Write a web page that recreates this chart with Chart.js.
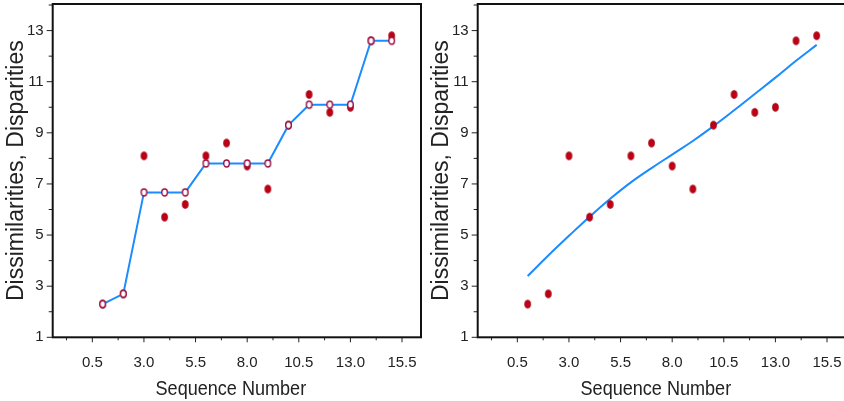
<!DOCTYPE html>
<html>
<head>
<meta charset="utf-8">
<script src="https://cdn.jsdelivr.net/npm/chart.js@4.4.1/dist/chart.umd.min.js"></script>
<style>
  html, body { margin: 0; padding: 0; background: #fff; overflow: hidden; }
  #wrap { position: relative; width: 844px; height: 401px; overflow: hidden; }
  .panel { position: absolute; top: 0; }
</style>
</head>
<body>
<div id="wrap">
  <canvas id="leftChart" class="panel" width="422" height="401" style="left:0"></canvas>
  <canvas id="rightChart" class="panel" width="422" height="401" style="left:425px"></canvas>
</div>
<script>
// data
const sequence = [1, 2, 3, 4, 5, 6, 7, 8, 9, 10, 11, 12, 13, 14, 15];
const dissimilarities = [2.3, 2.7, 8.1, 5.7, 6.2, 8.1, 8.6, 7.7, 6.8, 9.3, 10.5, 9.8, 10.0, 12.6, 12.8];
const disparities = [2.3, 2.7, 6.67, 6.67, 6.67, 7.8, 7.8, 7.8, 7.8, 9.3, 10.1, 10.1, 10.1, 12.6, 12.6];
const smoothFit = [3.40, 4.20, 4.97, 5.72, 6.42, 7.06, 7.62, 8.15, 8.68, 9.26, 9.88, 10.52, 11.16, 11.82, 12.44];

const xMajorTicks = [0.5, 3.0, 5.5, 8.0, 10.5, 13.0, 15.5];
const xMinorTicks = [-0.75, 1.75, 4.25, 6.75, 9.25, 11.75, 14.25];
const yMajorTicks = [1, 3, 5, 7, 9, 11, 13];
const yMinorTicks = [2, 4, 6, 8, 10, 12, 14];

const xTitle = 'Sequence Number';
const yTitle = 'Dissimilarities, Disparities';

const BLUE = '#1a8cff';
const RED = '#c00012';
const INK = '#222';

// little ellipse sprites, the marks in the original are a bit taller than wide
function ellipseSprite(w, h, fill, stroke, lw) {
  const c = document.createElement('canvas');
  c.width = Math.ceil(w + lw + 2);
  c.height = Math.ceil(h + lw + 2);
  const g = c.getContext('2d');
  g.beginPath();
  g.ellipse(c.width / 2, c.height / 2, w / 2, h / 2, 0, 0, Math.PI * 2);
  g.fillStyle = fill;
  g.fill();
  if (lw > 0) {
    g.lineWidth = lw;
    g.strokeStyle = stroke;
    g.stroke();
  }
  return c;
}
const redDot = ellipseSprite(6, 8, RED, '#a0001a', 0.8);
const openDot = ellipseSprite(5.6, 7, '#fff', '#9a1040', 1.4);

const points = ys => sequence.map((s, i) => ({ x: s, y: ys[i] }));

// frame box, major/minor tick marks and the (narrow) x title
const frameAndTicks = {
  id: 'frameAndTicks',
  afterDraw(chart) {
    const { ctx, chartArea: a, scales: { x, y } } = chart;
    ctx.save();
    ctx.strokeStyle = INK;
    ctx.lineWidth = 1;
    ctx.beginPath();
    xMajorTicks.forEach(v => { const p = x.getPixelForValue(v); ctx.moveTo(p, a.bottom); ctx.lineTo(p, a.bottom + 5); });
    xMinorTicks.forEach(v => { const p = x.getPixelForValue(v); ctx.moveTo(p, a.bottom); ctx.lineTo(p, a.bottom + 3); });
    yMajorTicks.forEach(v => { const p = y.getPixelForValue(v); ctx.moveTo(a.left, p); ctx.lineTo(a.left - 6, p); });
    yMinorTicks.forEach(v => { const p = y.getPixelForValue(v); ctx.moveTo(a.left, p); ctx.lineTo(a.left - 4, p); });
    ctx.stroke();
    ctx.lineWidth = 2;
    ctx.strokeStyle = '#111';
    ctx.strokeRect(a.left, a.top, a.right - a.left, a.bottom - a.top);

    ctx.translate((a.left + a.right) / 2 - 6, 395);
    ctx.scale(0.86, 1);
    ctx.font = '21px "Liberation Sans", Arial, sans-serif';
    ctx.fillStyle = INK;
    ctx.textAlign = 'center';
    ctx.textBaseline = 'alphabetic';
    ctx.fillText(xTitle, 0, 0);
    ctx.restore();
  }
};

function axes() {
  return {
    x: {
      type: 'linear',
      min: -1.42,
      max: 16.42,
      afterBuildTicks: s => { s.ticks = xMajorTicks.map(v => ({ value: v })); },
      afterFit: s => { s.height = 63.7; s.paddingLeft = 0; s.paddingRight = 0; },
      grid: { display: false, drawTicks: true, tickLength: 5 },
      border: { display: false },
      ticks: {
        autoSkip: false, maxRotation: 0, padding: 12, color: INK,
        font: { family: '"Liberation Sans", Arial, sans-serif', size: 15 },
        callback: v => v.toFixed(1)
      },
      title: { display: false }
    },
    y: {
      type: 'linear',
      min: 1,
      max: 14.04,
      afterBuildTicks: s => { s.ticks = yMajorTicks.map(v => ({ value: v })); },
      afterFit: s => { s.width = 52.7; s.paddingTop = 0; s.paddingBottom = 0; },
      grid: { display: false, drawTicks: true, tickLength: 6 },
      border: { display: false },
      ticks: {
        autoSkip: false, padding: 3, color: INK,
        font: { family: '"Liberation Sans", Arial, sans-serif', size: 15 },
        callback: v => String(v)
      },
      title: {
        display: true, text: yTitle, color: INK, padding: { top: 3, bottom: 0 },
        font: { family: '"Liberation Sans", Arial, sans-serif', size: 23 }
      }
    }
  };
}

function makeChart(id, datasets) {
  return new Chart(document.getElementById(id), {
    type: 'scatter',
    data: { datasets: datasets },
    options: {
      responsive: false,
      animation: false,
      layout: { autoPadding: false, padding: { top: 4, right: 1, left: 0, bottom: 0 } },
      plugins: { legend: { display: false }, tooltip: { enabled: false } },
      scales: axes()
    },
    plugins: [frameAndTicks]
  });
}

// left: isotonic disparities over the raw dissimilarities
makeChart('leftChart', [
  {
    label: 'Disparities',
    data: points(disparities),
    showLine: true,
    borderColor: BLUE,
    borderWidth: 2,
    pointStyle: openDot,
    pointRadius: 4
  },
  {
    label: 'Dissimilarities',
    data: points(dissimilarities),
    showLine: false,
    pointStyle: redDot,
    pointRadius: 4
  }
]);

// right: smooth fitted curve
makeChart('rightChart', [
  {
    label: 'Dissimilarities',
    data: points(dissimilarities),
    showLine: false,
    pointStyle: redDot,
    pointRadius: 4
  },
  {
    label: 'Fit',
    data: points(smoothFit),
    showLine: true,
    borderColor: BLUE,
    borderWidth: 2,
    tension: 0.4,
    pointRadius: 0
  }
]);
</script>
</body>
</html>
